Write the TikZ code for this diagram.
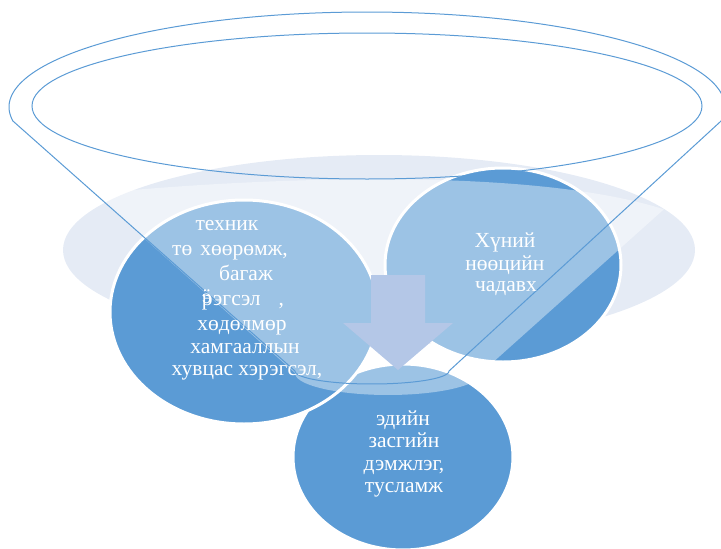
\documentclass[tikz,border=0pt]{standalone}
\usepackage{fontspec}
\setmainfont{Liberation Serif}
\newfontfamily\djfont{DejaVu Serif}
\definecolor{dk}{HTML}{5B9BD5}
\definecolor{pale}{HTML}{E5EBF5}
\definecolor{arr}{HTML}{B4C7E7}
\tikzset{
  circ/.style={fill=dk, draw=white, line width=3pt},
  ln/.style={draw=dk, line width=1pt},
  txt/.style={text=white, font=\fontsize{21.5}{24}\selectfont, anchor=base, inner sep=0pt},
}
\begin{document}
\begin{tikzpicture}[x=1pt,y=-1pt]
\useasboundingbox (0,0) rectangle (721,549);
\clip (0,0) rectangle (721,549);
% pale background ellipse
\fill[pale] (379,250) ellipse [x radius=316, y radius=95];
% circles
\path[circ] (403,457) ellipse [x radius=110, y radius=93];
\path[circ] (503,265) ellipse [x radius=118, y radius=97];
\path[circ] (244,312) ellipse [x radius=134, y radius=112];
% translucent funnel body
\begin{scope}
  \clip (13,100) -- (13,121) -- (295,373)
    -- plot[domain=180:0, samples=60] ({388+93*cos(\x)},{373+22*sin(\x)})
    -- (786,100) -- cycle;
  \fill[white, opacity=0.4] (0,200) -- (40,200) .. controls (140,185) and (680,140) .. (740,260)
    -- (740,440) -- (0,440) -- cycle;
\end{scope}
% arrow
\fill[arr] (371,275) -- (425,275) -- (425,323) -- (453,323) -- (398,370) -- (343,323) -- (371,323) -- cycle;
% funnel outline
\draw[ln] plot[domain=171.5:368.5, samples=150] ({367+358*cos(\x)},{107+95*sin(\x)})
  -- (449,371) -- plot[domain=0:180, samples=60] ({372+77*cos(\x)},{371+13*sin(\x)}) -- cycle;
\draw[ln] (367,106) ellipse [x radius=335, y radius=73];
% texts
\node[txt] (l1) at (227,230) {техник};
\node[txt] (l2) at (230,255) {тө\hspace{8pt}хөөрөмж,};
\node[txt] (l3) at (246,280) {багаж};
\node[txt] (l4) at (243,305) {\rlap{\raisebox{2pt}{\djfont\fontsize{18}{20}\selectfont ӭ}}рэгсэл\hspace{18pt},};
\node[txt] (l5) at (242,330) {хөдөлмөр};
\node[txt] (l6) at (245,353) {хамгааллын};
\node[txt] (l7) at (247,375) {хувцас хэрэгсэл,};
\node[txt] (r1) at (505,247) {Хүний};
\node[txt] (r2) at (505,270) {нөөцийн};
\node[txt] (r3) at (506,291) {чадавх};
\node[txt] (b1) at (403,425) {эдийн};
\node[txt] (b2) at (404,447) {засгийн};
\node[txt] (b3) at (404,470) {дэмжлэг,};
\node[txt] (b4) at (404,492) {тусламж};
\end{tikzpicture}
\end{document}
